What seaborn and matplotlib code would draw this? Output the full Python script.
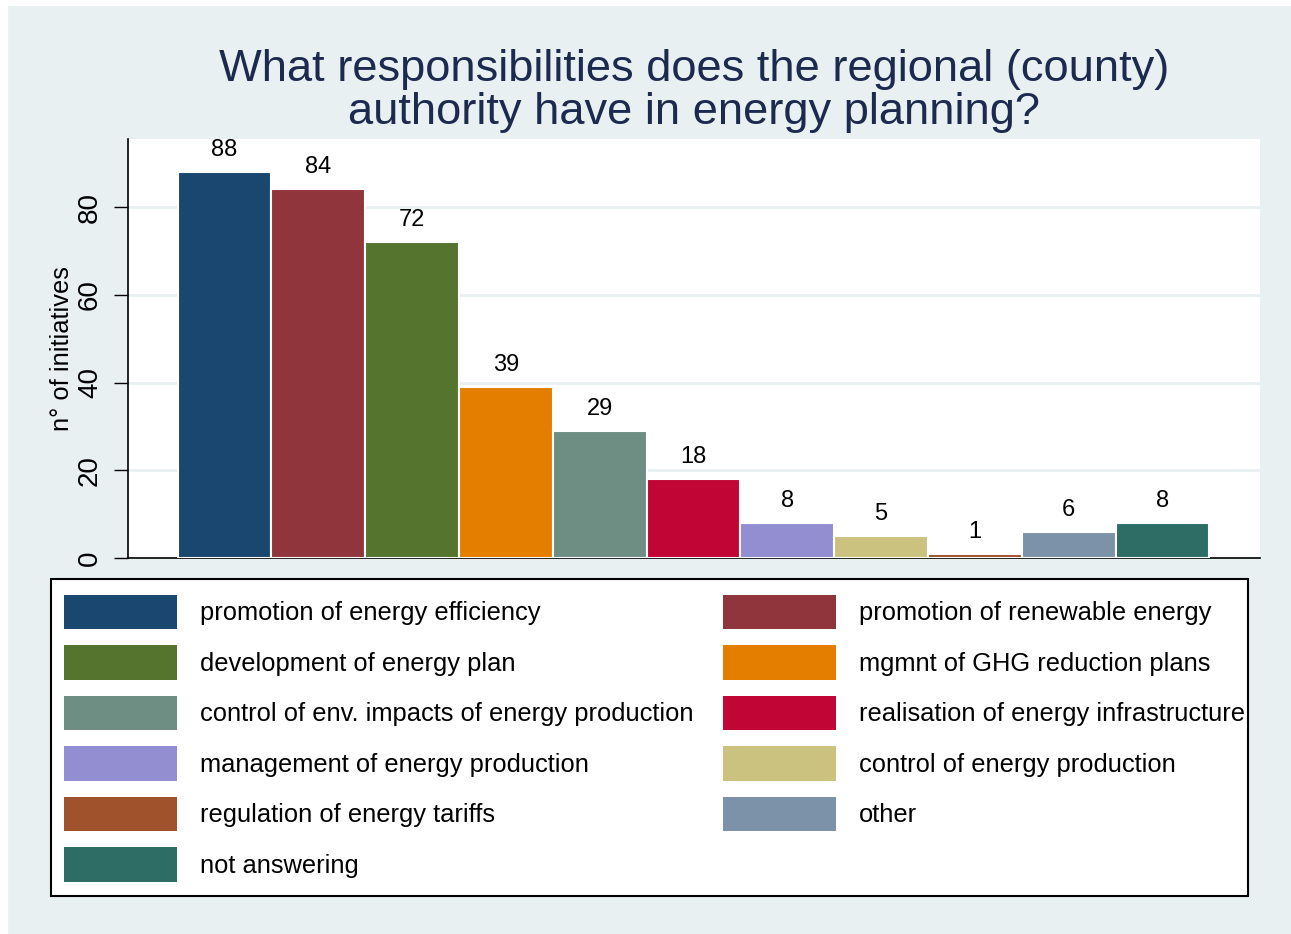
import matplotlib
matplotlib.use("Agg")
import matplotlib.pyplot as plt
import matplotlib.patches as mpatches
import seaborn as sns
import pandas as pd

categories = ["promotion of energy efficiency", "promotion of renewable energy",
              "development of energy plan", "mgmnt of GHG reduction plans",
              "control of env. impacts of energy production", "realisation of energy infrastructure",
              "management of energy production", "control of energy production",
              "regulation of energy tariffs", "other", "not answering"]
counts = [88, 84, 72, 39, 29, 18, 8, 5, 1, 6, 8]
colors = ["#1A476F", "#90353B", "#55752F", "#E37E00", "#6E8E84", "#C10534",
          "#938DD2", "#CAC27E", "#A0522D", "#7B92A8", "#2D6D66"]
yticks = [0, 20, 40, 60, 80]

W, H = 1291, 934
bg = "#E8F0F2"
sns.set_style("white")
plt.rcParams["font.family"] = ["Liberation Sans", "DejaVu Sans"]
plt.rcParams["text.color"] = "black"
plt.rcParams["axes.labelcolor"] = "black"
plt.rcParams["ytick.color"] = "black"

df = pd.DataFrame({"cat": categories, "n": counts})

fig = plt.figure(figsize=(W / 100, H / 100), dpi=100, facecolor=bg)
# thin white border on left/top like the source image
fig.patches.append(mpatches.Rectangle((0, 0), 7 / W, 1, transform=fig.transFigure,
                                      color="white", zorder=-1))
fig.patches.append(mpatches.Rectangle((0, 1 - 5 / H), 1, 5 / H, transform=fig.transFigure,
                                      color="white", zorder=-1))

ax = fig.add_axes([128 / W, 1 - 558 / H, (1260 - 128) / W, (558 - 139) / H])
ax.set_facecolor("white")
sns.barplot(data=df, x="cat", y="n", hue="cat", palette=colors, order=categories,
            hue_order=categories, width=1.0, edgecolor="white", linewidth=1.5,
            saturation=1, legend=False, ax=ax, zorder=3)

for c in ax.containers:
    ax.bar_label(c, padding=8, fontsize=17, color="black")

ax.set_xlim(-1.03, 11.04)
ax.set_ylim(0, 95.5)
ax.set_yticks(yticks)
ax.grid(axis="y", color=bg, linewidth=2, zorder=0)
ax.set_axisbelow(True)
ax.tick_params(axis="y", length=10, width=1, labelsize=20, pad=8, left=True, color="black")
for t in ax.get_yticklabels():
    t.set_rotation(90)
    t.set_va("center")
ax.set_xticks([])
ax.set_xlabel("")
ax.set_ylabel("n° of initiatives", fontsize=18.4, labelpad=2)
for s in ["top", "right"]:
    ax.spines[s].set_visible(False)
for s in ["left", "bottom"]:
    ax.spines[s].set_color("black")
    ax.spines[s].set_linewidth(1.2)

ax.set_title("What responsibilities does the regional (county)\nauthority have in energy planning?",
             fontsize=32.6, color="#1C2A50", linespacing=1.05, pad=11)

# legend frame drawn separately so its size matches the original box
fig.patches.append(mpatches.Rectangle((51 / W, 1 - 896 / H), (1248 - 51) / W, (896 - 579) / H,
                                      transform=fig.transFigure, facecolor="white",
                                      edgecolor="black", linewidth=1.5, zorder=1))

handles = [mpatches.Patch(facecolor=col, edgecolor="none", label=lab)
           for lab, col in zip(categories, colors)]
order = [0, 2, 4, 6, 8, 10, 1, 3, 5, 7, 9]
fs = 18.4
fs_px = fs * 100 / 72
leg = fig.legend([handles[i] for i in order], [categories[i] for i in order],
                 loc="upper left", bbox_to_anchor=(64 / W, 1 - 595 / H),
                 ncol=2, fontsize=fs, frameon=False,
                 handlelength=113 / fs_px, handleheight=1.68, handletextpad=0.9,
                 labelspacing=(50.3 - 34) / fs_px, columnspacing=1.16,
                 borderpad=0, borderaxespad=0)
leg.set_zorder(5)

fig.savefig("out.png", dpi=100, facecolor=fig.get_facecolor())
